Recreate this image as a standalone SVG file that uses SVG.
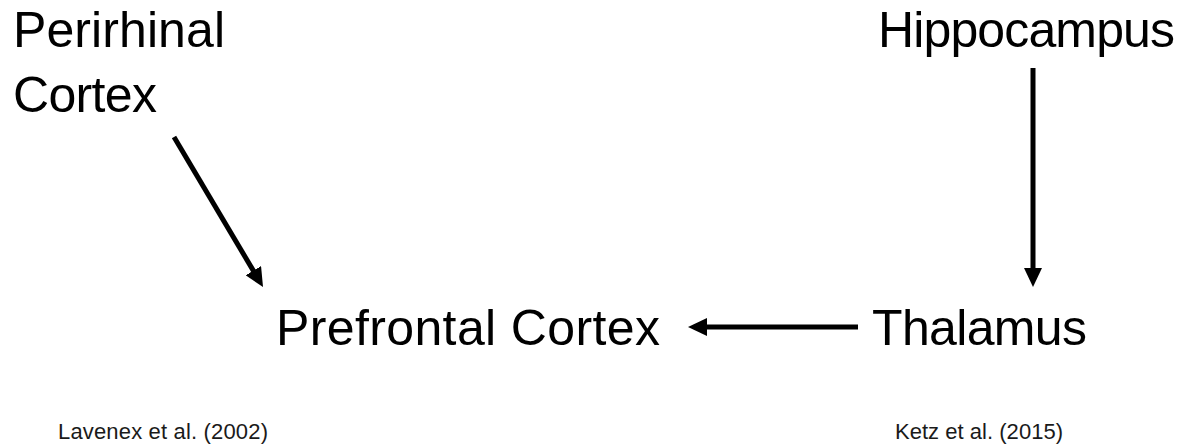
<svg xmlns="http://www.w3.org/2000/svg" width="1190" height="448" viewBox="0 0 1190 448">
  <style>
    .big { font-family: "Liberation Sans", Arial, sans-serif; font-size: 50px; fill: #000; }
    .ref { font-family: "Liberation Sans", Arial, sans-serif; font-size: 22px; fill: #1a1a1a; }
    .conn { stroke: #000; stroke-width: 5; fill: none; marker-end: url(#head); }
  </style>
  <defs>
    <marker id="head" markerUnits="userSpaceOnUse" markerWidth="19" markerHeight="18" viewBox="0 0 19 18" refX="9" refY="9" orient="auto">
      <path d="M0,0 L19,9 L0,18 z" fill="#000"/>
    </marker>
  </defs>
  <rect width="1190" height="448" fill="#fff"/>
  <g id="perirhinal">
    <text class="big" x="13" y="47" textLength="212">Perirhinal</text>
    <text class="big" x="13" y="112" textLength="144">Cortex</text>
  </g>
  <g id="hippocampus">
    <text class="big" x="878" y="47" textLength="297">Hippocampus</text>
  </g>
  <g id="prefrontal">
    <text class="big" x="276" y="345" textLength="384">Prefrontal Cortex</text>
  </g>
  <g id="thalamus">
    <text class="big" x="872" y="345" textLength="215">Thalamus</text>
  </g>
  <g id="connectors">
    <line class="conn" x1="174" y1="137" x2="257.9" y2="278.4"/>
    <line class="conn" x1="1033" y1="68" x2="1033" y2="277"/>
    <line class="conn" x1="858" y1="327" x2="698" y2="327"/>
  </g>
  <g id="refs">
    <text class="ref" x="58" y="439" textLength="210">Lavenex et al. (2002)</text>
    <text class="ref" x="895" y="439" textLength="168">Ketz et al. (2015)</text>
  </g>
</svg>
